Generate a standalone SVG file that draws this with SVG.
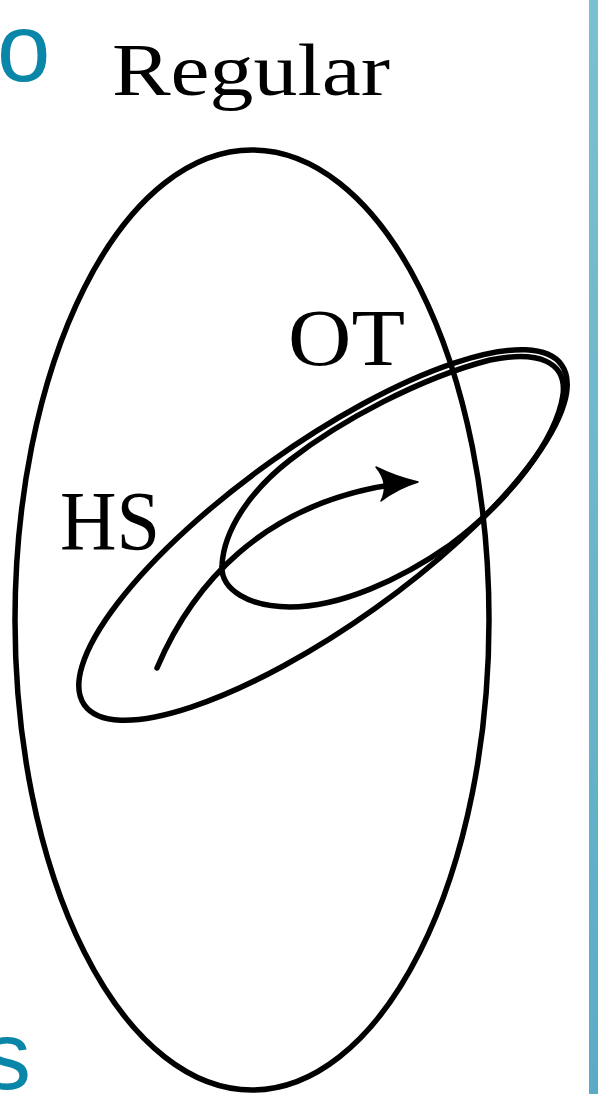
<svg xmlns="http://www.w3.org/2000/svg" width="598" height="1094" viewBox="0 0 598 1094">
<style>
.ln{fill:none;stroke:#000;stroke-width:5.5;stroke-linecap:round;stroke-linejoin:round}
.lbl{font-family:"Liberation Serif","Times New Roman",serif;fill:#000}
.blue{font-family:"Liberation Sans",Arial,sans-serif;fill:#0A86A8;font-size:96px}
</style>
<defs>
<linearGradient id="bar" x1="0" y1="0" x2="0" y2="1">
<stop offset="0" stop-color="#7DBFD2"/>
<stop offset="1" stop-color="#5AACC6"/>
</linearGradient>
</defs>
<rect x="0" y="0" width="598" height="1094" fill="#fff"/>
<rect x="589" y="0" width="9" height="1094" fill="url(#bar)"/>
<text class="blue" x="-3" y="81">o</text>
<text class="blue" x="-17" y="1089">s</text>
<g id="regular">
<ellipse class="ln" cx="252" cy="620" rx="237" ry="470"/>
<text class="lbl" x="112" y="95" font-size="74" textLength="278" lengthAdjust="spacingAndGlyphs">Regular</text>
</g>
<g id="hs">
<ellipse class="ln" cx="323" cy="535" rx="293" ry="90" transform="rotate(-35.5 323 535)"/>
<text class="lbl" x="60" y="550" font-size="84" textLength="100" lengthAdjust="spacingAndGlyphs">HS</text>
</g>
<g id="ot">
<path class="ln" d="M 290,607 C 250,607 220,590 222,565 C 224,530 250,491 290,460 C 340,421 420,378 490,360 C 539,350 567,362 563,395 C 556,440 510,500 450,545 C 400,580 340,607 290,607 Z"/>
<text class="lbl" x="288" y="365" font-size="80" textLength="117" lengthAdjust="spacingAndGlyphs">OT</text>
</g>
<g id="connectors">
<path class="ln" stroke-width="5" d="M 157,668 C 190,590 260,500 405,483"/>
<path d="M 418,482 Q 396,477 376,467 Q 390,484 381,501 Q 398,488 418,482 Z" fill="#000" stroke="#000" stroke-width="1.5" stroke-linejoin="round"/>
</g>
</svg>
